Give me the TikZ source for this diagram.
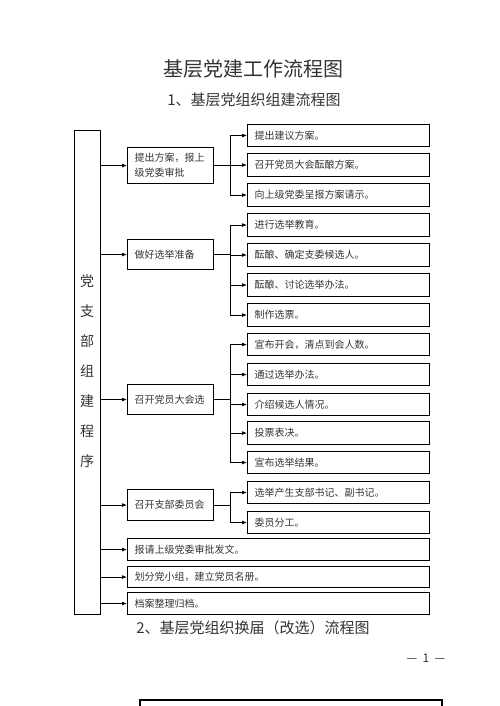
\documentclass[tikz,border=0pt]{standalone}
\usepackage{fontspec}
\newfontfamily\cjk{Noto Sans CJK SC}
\usetikzlibrary{arrows.meta}
\begin{document}
\begin{tikzpicture}[x=1pt,y=-1pt,
  box/.style={draw=black,line width=1.1pt,rectangle,inner xsep=7pt,inner ysep=0pt,
    anchor=north west,font=\cjk\fontsize{10}{15}\selectfont,align=left,text=black!80},
  rbox/.style={box,minimum width=182pt,text width=168pt},
  lbox/.style={box,minimum width=86pt,text width=72pt},
  wbox/.style={box,minimum width=302pt,text width=288pt,minimum height=22pt},
  conn/.style={line width=0.9pt},
  arr/.style={conn,-{Latex[length=5pt,width=4pt]}},
  ttl/.style={font=\cjk\fontsize{20}{20}\selectfont,text=black!80,inner sep=0pt},
  sub/.style={font=\cjk\fontsize{15}{15}\selectfont,text=black!80,inner sep=0pt}]
\useasboundingbox (0,0) rectangle (500,706);
\node[ttl] (t1) at (253,69) {基层党建工作流程图};
\node[sub] (t2) at (254,100) {1、基层党组织组建流程图};
% left tall box
\node[draw=black,line width=1.1pt,anchor=north west,minimum width=26pt,minimum height=484pt,inner sep=0pt] (main) at (74,130) {};
\node[font=\cjk\fontsize{14}{14}\selectfont,text=black!80,align=center,inner sep=0pt] (mtxt) at (87,371)
 {党\\[16pt]支\\[16pt]部\\[16pt]组\\[16pt]建\\[16pt]程\\[16pt]序};
% level 2
\node[lbox,minimum height=36pt] (l1) at (127,147) {提出方案，报上\\级党委审批};
\node[lbox,minimum height=30pt] (l2) at (127,239) {做好选举准备};
\node[lbox,minimum height=30pt] (l3) at (127,384) {召开党员大会选};
\node[lbox,minimum height=31pt] (l4) at (127,489) {召开支部委员会};
% right boxes
\node[rbox,minimum height=22pt] (r1) at (247,124) {提出建议方案。};
\node[rbox,minimum height=23pt] (r2) at (247,153) {召开党员大会酝酿方案。};
\node[rbox,minimum height=23pt] (r3) at (247,183) {向上级党委呈报方案请示。};
\node[rbox,minimum height=23pt] (r4) at (247,213) {进行选举教育。};
\node[rbox,minimum height=23pt] (r5) at (247,243) {酝酿、确定支委候选人。};
\node[rbox,minimum height=23pt] (r6) at (247,273) {酝酿、讨论选举办法。};
\node[rbox,minimum height=23pt] (r7) at (247,303) {制作选票。};
\node[rbox,minimum height=22pt] (r8) at (247,333) {宣布开会，清点到会人数。};
\node[rbox,minimum height=22pt] (r9) at (247,363) {通过选举办法。};
\node[rbox,minimum height=22pt] (r10) at (247,393) {介绍候选人情况。};
\node[rbox,minimum height=23pt] (r11) at (247,421) {投票表决。};
\node[rbox,minimum height=22pt] (r12) at (247,451) {宣布选举结果。};
\node[rbox,minimum height=22pt] (r13) at (247,481) {选举产生支部书记、副书记。};
\node[rbox,minimum height=22pt] (r14) at (247,511) {委员分工。};
% wide boxes
\node[wbox] (w1) at (127,538) {报请上级党委审批发文。};
\node[wbox,minimum height=21pt] (w2) at (127,566) {划分党小组，建立党员名册。};
\node[wbox] (w3) at (127,592) {档案整理归档。};
% connectors main -> level 2 / wide
\foreach \n in {l1,l2,l3,l4,w1,w2,w3}{
  \draw[arr] (main.east |- \n.west) -- (\n.west);
}
% buses
\foreach \p/\cs in {l1/{r1,r2,r3},l2/{r4,r5,r6,r7},l3/{r8,r9,r10,r11,r12},l4/{r13,r14}}{
  \coordinate (b-\p) at (230,0);
  \draw[conn] (\p.east) -- (b-\p |- \p.east);
  \foreach \c in \cs {
    \draw[arr] (b-\p |- \c.west) -- (\c.west);
  }
}
\draw[conn] (b-l1 |- r1.west) -- (b-l1 |- r3.west);
\draw[conn] (b-l2 |- r4.west) -- (b-l2 |- r7.west);
\draw[conn] (b-l3 |- r8.west) -- (b-l3 |- r12.west);
\draw[conn] (b-l4 |- r13.west) -- (b-l4 |- r14.west);
% footer
\node[sub] (t3) at (253,628) {2、基层党组织换届（改选）流程图};
\node[font=\cjk\fontsize{12}{12}\selectfont,text=black!80,inner sep=0pt] (pg) at (426,658) {—\ \ 1\ \ —};
\coordinate (bb1) at (140,720);
\coordinate (bb2) at (442,700);
\draw[line width=1.1pt] (bb1) |- (bb2) -- (442,720);
\end{tikzpicture}
\end{document}
